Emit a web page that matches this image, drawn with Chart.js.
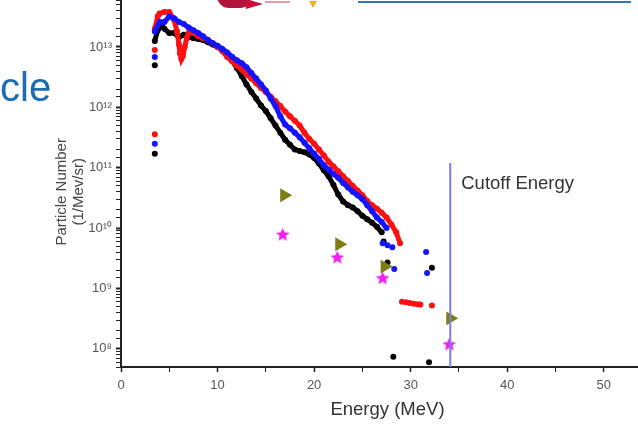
<!DOCTYPE html>
<html><head><meta charset="utf-8">
<script src="https://cdn.jsdelivr.net/npm/chart.js@4/dist/chart.umd.min.js"></script>
<style>
html,body{margin:0;padding:0;width:638px;height:426px;overflow:hidden;background:#fff;}
#wrap{position:absolute;left:0;top:0;width:654px;height:426px;}
.deco{position:absolute;}
</style></head><body>
<div id="wrap"><canvas id="c" width="654" height="426"></canvas></div>
<div class="deco" style="left:0;top:67px;font:40px 'Liberation Sans',Arial,sans-serif;color:#1a6cb5;line-height:40px;">cle</div>
<div class="deco" style="left:217px;top:-6px;width:34px;height:14px;background:#b3123b;border-radius:0 0 10px 12px;"></div>
<div class="deco" style="left:246px;top:-1px;width:0;height:0;border-left:17px solid #c8103a;border-top:5px solid transparent;border-bottom:5px solid transparent;"></div>
<div class="deco" style="left:265px;top:1px;width:25px;height:2px;background:#e79aaa;"></div>
<div class="deco" style="left:309px;top:1px;width:0;height:0;border-top:7px solid #f0b020;border-left:4px solid transparent;border-right:4px solid transparent;"></div>
<div class="deco" style="left:358px;top:1px;width:273px;height:2px;background:#3574b8;"></div>
<script>
// ---- data ----
const blueE = [3.5,4.0,4.5,5.0,5.5,6.0,6.5,7.0,7.5,8.0,8.5,9.0,9.5,10.0,10.5,11.0,11.5,12.0,12.5,13.0,13.5,14.0,14.5,15.0,15.5,16.0,16.5,17.0,17.5,18.0,18.5,19.0,19.5,20.0,20.5,21.0,21.5,22.0,22.5,23.0,23.5,24.0,24.5,25.0,25.5,26.0,26.5,27.0,27.5];
const blueN = [1.8e13,2.6e13,2.6e13,3.2e13,3.0e13,2.6e13,2.4e13,2.1e13,1.9e13,1.7e13,1.5e13,1.3e13,1.15e13,1.05e13,9.3e12,8.1e12,6.9e12,6.0e12,5.4e12,4.6e12,3.7e12,3.0e12,2.4e12,1.9e12,1.4e12,1.05e12,7.1e11,5.2e11,4.5e11,3.8e11,3.2e11,2.6e11,2.1e11,1.7e11,1.4e11,1.1e11,9.3e10,7.9e10,6.8e10,5.6e10,4.7e10,4.0e10,3.5e10,3.0e10,2.4e10,1.9e10,1.5e10,1.26e10,1.0e10];
const blueDotE = [3.5,3.5,27.1,27.6,28.1,28.3,31.6,31.7];
const blueDotN = [6.8e12,2.5e11,5.6e9,5.2e9,4.8e9,2.1e9,4.0e9,1.8e9];

const redE = [3.5,3.8,4.0,4.5,5.0,5.5,5.8,6.0,6.1,6.25,6.4,6.6,6.8,7.0,7.5,8.0,8.5,9.0,9.5,10.0,10.5,11.0,11.5,12.0,12.5,13.0,13.5,14.0,14.5,15.0,15.5,16.0,16.5,17.0,17.5,18.0,18.5,19.0,19.5,20.0,20.5,21.0,21.5,22.0,22.5,23.0,23.5,24.0,24.5,25.0,25.5,26.0,26.5,27.0,27.5,28.0,28.5,28.9];
const redN = [2.0e13,3.2e13,3.6e13,3.8e13,3.8e13,2.8e13,1.8e13,1.1e13,7.9e12,6.3e12,7.1e12,1.0e13,1.4e13,1.7e13,1.7e13,1.5e13,1.4e13,1.3e13,1.15e13,1.0e13,8.5e12,6.8e12,5.8e12,4.9e12,4.2e12,3.5e12,3.0e12,2.5e12,2.1e12,1.8e12,1.5e12,1.26e12,1.05e12,8.5e11,7.1e11,6.0e11,5.0e11,3.8e11,3.0e11,2.5e11,2.0e11,1.6e11,1.26e11,1.05e11,8.7e10,7.2e10,6.0e10,5.0e10,4.2e10,3.5e10,2.8e10,2.4e10,2.1e10,1.8e10,1.5e10,1.15e10,8.5e9,5.6e9];
const redDotE = [3.5,3.5,29.1,29.5,29.9,30.3,30.7,31.0,32.2];
const redDotN = [8.9e12,3.6e11,6.0e8,5.9e8,5.75e8,5.6e8,5.5e8,5.4e8,5.2e8];

const blackE = [3.5,3.8,4.2,4.5,5.0,5.5,6.0,6.5,7.0,7.5,8.0,8.5,9.0,9.5,10.0,10.5,11.0,11.5,12.0,12.5,13.0,13.5,14.0,14.5,15.0,15.5,16.0,16.5,17.0,17.5,18.0,18.5,19.0,19.5,20.0,20.5,21.0,21.5,22.0,22.5,23.0,23.5,24.0,24.5,25.0,25.5,26.0,26.5,27.0];
const blackN = [1.26e13,1.9e13,2.3e13,2.0e13,1.7e13,1.7e13,1.45e13,1.6e13,1.45e13,1.4e13,1.35e13,1.3e13,1.2e13,1.1e13,1.0e13,8.9e12,7.6e12,6.0e12,4.5e12,3.3e12,2.4e12,1.8e12,1.4e12,1.07e12,8.7e11,6.6e11,5.0e11,3.8e11,2.9e11,2.4e11,2.0e11,1.9e11,1.8e11,1.66e11,1.45e11,1.17e11,9.1e10,7.2e10,5.2e10,3.6e10,2.75e10,2.4e10,2.2e10,1.9e10,1.6e10,1.4e10,1.23e10,1.05e10,8.5e9];
const blackDotE = [3.5,3.5,27.2,27.6,28.2,31.9,32.2];
const blackDotN = [5.0e12,1.7e11,6.0e9,2.7e9,7.4e7,6.0e7,2.2e9];

const triE = [16.9,22.6,27.3,34.1];
const triN = [3.5e10,5.4e9,2.3e9,3.2e8];
const starE = [16.75,22.4,27.1,34.0];
const starN = [7.9e9,3.3e9,1.5e9,1.2e8];

const cutoffE = [34.1,34.1];
const cutoffN = [1.2e11,5e7];
const cutoffText = 'Cutoff Energy';

const xTickVals = [0,10,20,30,40,50];
const yTickExps = [8,9,10,11,12,13];
const yTickText = ['10\u2078','10\u2079','10\u00B9\u2070','10\u00B9\u00B9','10\u00B9\u00B2','10\u00B9\u00B3'];
const yTitle = ['Particle Number\u00A0\u00A0\u00A0\u00A0', '(1/Mev/sr)\u00A0\u00A0\u00A0\u00A0'];
// ------------------------------------

const FONT = "'Liberation Sans', Arial, Helvetica, sans-serif";
const pts = (xs, ys) => xs.map((x, i) => ({x: x, y: ys[i]}));

function starCanvas(size, color) {
  const c = document.createElement('canvas');
  c.width = c.height = size;
  const g = c.getContext('2d');
  g.fillStyle = color;
  g.beginPath();
  const cx = size / 2, cy = size / 2 + 0.6, R = size / 2 - 0.3, r = R * 0.45;
  for (let i = 0; i < 10; i++) {
    const a = -Math.PI / 2 + i * Math.PI / 5;
    const rr = (i % 2) ? r : R;
    g.lineTo(cx + rr * Math.cos(a), cy + rr * Math.sin(a));
  }
  g.closePath();
  g.fill();
  return c;
}
const starImg = starCanvas(15, '#f01ef0');

const cutoffLabelPlugin = {
  id: 'cutoffLabel',
  afterDatasetsDraw(chart) {
    const {ctx, scales: {x, y}} = chart;
    ctx.save();
    ctx.font = '18.5px ' + FONT;
    ctx.fillStyle = '#333';
    ctx.textBaseline = 'middle';
    ctx.textAlign = 'left';
    ctx.fillText(cutoffText, x.getPixelForValue(cutoffE[0]) + 11, y.getPixelForValue(cutoffN[0]) + 21);
    ctx.restore();
  }
};

function band(label, xs, ys, color, order) {
  return {label, data: pts(xs, ys), showLine: true, borderColor: color, borderWidth: 5,
    backgroundColor: color, pointRadius: 3, pointBorderWidth: 0, order};
}
function dots(label, xs, ys, color, order) {
  return {label, data: pts(xs, ys), showLine: false, backgroundColor: color, borderColor: color,
    pointRadius: 3, pointBorderWidth: 0, order};
}

new Chart(document.getElementById('c'), {
  type: 'scatter',
  data: {
    datasets: [
      {label: 'cutoff', data: pts(cutoffE, cutoffN), showLine: true, borderColor: '#7d7de8', borderWidth: 2, pointRadius: 0, order: 0},
      {label: 'tri', data: pts(triE, triN), pointStyle: 'triangle', rotation: 90, pointRadius: 8,
        backgroundColor: '#7d7d14', borderColor: '#7d7d14', pointBorderWidth: 0, order: 0},
      {label: 'star', data: pts(starE, starN), pointStyle: starImg, order: 0},
      band('blue', blueE, blueN, '#1414ff', 1),
      dots('blueDots', blueDotE, blueDotN, '#1414ff', 1),
      band('red', redE, redN, '#ff1010', 2),
      dots('redDots', redDotE, redDotN, '#ff1010', 2),
      band('black', blackE, blackN, '#000000', 3),
      dots('blackDots', blackDotE, blackDotN, '#000000', 3)
    ]
  },
  options: {
    responsive: false,
    animation: false,
    devicePixelRatio: 1,
    events: [],
    layout: {padding: 0, autoPadding: false},
    plugins: {legend: {display: false}, tooltip: {enabled: false}},
    scales: {
      x: {
        type: 'linear', position: 'bottom', min: 0, max: 55.2,
        afterFit(s) { s.height = 59; s.paddingLeft = 0; s.paddingRight = 0; },
        ticks: {
          autoSkip: false, stepSize: 5, maxRotation: 0, padding: 6,
          color: '#555', font: {family: FONT, size: 13},
          callback: (v) => xTickVals.includes(v) ? String(v) : ''
        },
        grid: {drawOnChartArea: false, tickLength: 5, tickColor: '#222',
          tickWidth: (c) => (c.tick && xTickVals.includes(c.tick.value)) ? 1.5 : 1},
        border: {display: true, color: '#222', width: 2},
        title: {display: true, text: 'Energy (MeV)', color: '#333', font: {family: FONT, size: 18.5}, padding: {top: 4, bottom: 5}}
      },
      y: {
        type: 'logarithmic', position: 'left', min: 5e7, max: 6e13,
        afterFit(s) { s.width = 121; s.paddingTop = 0; s.paddingBottom = 0; },
        ticks: {
          autoSkip: false, padding: 4, color: '#555', font: {family: FONT, size: 13},
          callback: (v) => {
            const e = Math.log10(v), r = Math.round(e);
            const k = yTickExps.indexOf(r);
            return (Math.abs(e - r) < 1e-6 && k >= 0) ? yTickText[k] : '';
          }
        },
        grid: {drawOnChartArea: false, tickLength: 5, tickColor: '#222',
          tickWidth: (c) => {
            if (!c.tick) return 1;
            const e = Math.log10(c.tick.value);
            return Math.abs(e - Math.round(e)) < 1e-6 ? 2 : 1;
          }},
        border: {display: true, color: '#222', width: 2},
        title: {display: true, text: yTitle, color: '#444',
          font: {family: FONT, size: 15, lineHeight: 1.1}, padding: {top: 54}}
      }
    }
  },
  plugins: [cutoffLabelPlugin]
});
</script>
</body></html>
